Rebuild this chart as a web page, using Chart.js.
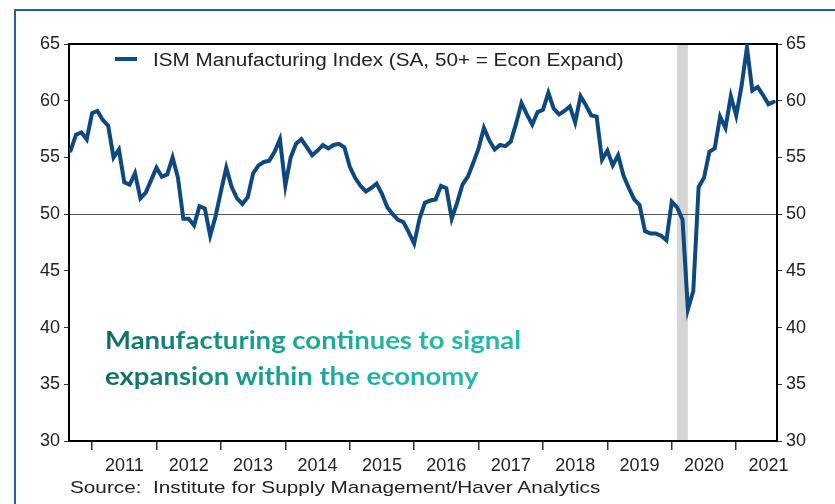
<!DOCTYPE html>
<html>
<head>
<meta charset="utf-8">
<script src="https://cdn.jsdelivr.net/npm/chart.js@4.4.1/dist/chart.umd.min.js"></script>
<style>
  body { margin: 0; background: #fff; }
  #wrap { position: relative; width: 835px; height: 504px; overflow: hidden; background: #fff; }
  #frame { position: absolute; left: 14px; top: 9px; right: -10px; bottom: -10px;
    border-top: 2px solid #2561a0; border-left: 2px solid #2561a0; }
  #ismChart { position: absolute; left: 0; top: 0; }
  .legend { position: absolute; left: 115px; top: 50px; font: 18px "Liberation Sans", Arial, sans-serif; color: #222; white-space: nowrap; }
  .legend .swatch { display: inline-block; width: 22px; height: 4px; background: #0f4c84; vertical-align: middle; margin-right: 16px; position: relative; top: -2px; }
  .legend .txt { display: inline-block; transform: scaleX(1.15); transform-origin: left center; }
  .note { position: absolute; left: 105px; top: 321px; font: bold 25px Lato, "Open Sans", sans-serif; line-height: 36px; white-space: nowrap;
    transform: scaleX(1.1); transform-origin: left top;
    background: linear-gradient(90deg, #0f6b64 0%, #169b8e 35%, #20b6a6 70%, #22bcab 100%);
    -webkit-background-clip: text; background-clip: text; color: transparent; }
  .source { position: absolute; left: 70px; top: 478px; font: 17px "Liberation Sans", Arial, sans-serif; color: #222; white-space: nowrap;
    transform: scaleX(1.22); transform-origin: left top; }
</style>
</head>
<body>
<div id="wrap">
  <div id="frame"></div>
  <canvas id="ismChart" width="835" height="504"></canvas>
  <div class="legend"><span class="swatch"></span><span class="txt">ISM Manufacturing Index (SA, 50+ = Econ Expand)</span></div>
  <div class="note">Manufacturing continues to signal<br>expansion within the economy</div>
  <div class="source">Source:&nbsp; Institute for Supply Management/Haver Analytics</div>
</div>
<script>
// ISM manufacturing PMI, monthly, Sep 2010 through Aug 2021
const firstMonth = '2010-09';
const ismValues = [
  55.6, 57.0, 57.2, 56.6,
  58.9, 59.1, 58.3, 57.8, 55.0, 55.7, 52.8, 52.6, 53.6, 51.4, 51.9, 53.0,
  54.1, 53.3, 53.5, 55.0, 53.2, 49.6, 49.6, 49.0, 50.7, 50.5, 48.1, 49.8,
  52.0, 54.1, 52.4, 51.4, 50.9, 51.5, 53.6, 54.3, 54.6, 54.7, 55.5, 56.6,
  52.5, 55.0, 56.2, 56.6, 55.9, 55.2, 55.6, 56.1, 55.8, 56.1, 56.2, 55.9,
  54.2, 53.2, 52.5, 52.0, 52.3, 52.7, 51.8, 50.6, 50.0, 49.5, 49.3, 48.4,
  47.4, 49.6, 51.0, 51.2, 51.3, 52.5, 52.3, 49.6, 51.0, 52.6, 53.3, 54.5,
  55.8, 57.6, 56.5, 55.7, 56.1, 56.0, 56.4, 58.0, 59.8, 58.8, 57.9, 59.0,
  59.2, 60.7, 59.3, 58.8, 59.1, 59.5, 58.1, 60.4, 59.6, 58.7, 58.6, 54.8,
  55.6, 54.3, 55.2, 53.4, 52.3, 51.3, 50.8, 48.5, 48.3, 48.3, 48.1, 47.7,
  51.1, 50.6, 49.5, 41.6, 43.2, 52.4, 53.2, 55.5, 55.8, 58.6, 57.6, 60.4,
  58.7, 61.3, 64.7, 60.9, 61.2, 60.5, 59.7, 59.9
];
const yearLabels = ['2011', '2012', '2013', '2014', '2015', '2016', '2017', '2018', '2019', '2020', '2021'];
const yTicks = [30, 35, 40, 45, 50, 55, 60, 65];
const recession = ['2020-02', '2020-04'];

// months counted from Jan 2011
function monthIndex(s) {
  const [y, m] = s.split('-').map(Number);
  return (y - 2011) * 12 + (m - 1);
}

const start = monthIndex(firstMonth);
const points = ismValues.map((v, k) => ({ x: start + k, y: v }));
const xMin = start - 0.3;
const xMax = start + ismValues.length - 1 + 0.6;

const tickFont = { family: 'Liberation Sans', size: 18 };

const recessionBand = {
  id: 'recessionBand',
  beforeDraw(chart) {
    const { ctx, chartArea, scales } = chart;
    const x0 = scales.x.getPixelForValue(monthIndex(recession[0]));
    const x1 = scales.x.getPixelForValue(monthIndex(recession[1]));
    ctx.save();
    ctx.fillStyle = '#d4d4d4';
    ctx.fillRect(x0, chartArea.top, x1 - x0, chartArea.bottom - chartArea.top);
    ctx.restore();
  }
};

new Chart(document.getElementById('ismChart'), {
  type: 'line',
  data: {
    datasets: [{
      label: 'ISM Manufacturing Index (SA, 50+ = Econ Expand)',
      data: points,
      borderColor: '#0e4880',
      borderWidth: 4,
      pointRadius: 0,
      tension: 0,
      borderCapStyle: 'round',
      fill: false
    }]
  },
  options: {
    responsive: false,
    animation: false,
    devicePixelRatio: 1,
    layout: { padding: 0 },
    plugins: { legend: { display: false }, tooltip: { enabled: false } },
    scales: {
      x: {
        type: 'linear',
        position: 'bottom',
        min: xMin,
        max: xMax,
        afterBuildTicks: function(scale) {
          const ticks = [];
          yearLabels.forEach((label, k) => {
            ticks.push({ value: k * 12 });
            ticks.push({ value: k * 12 + 6 });
          });
          scale.ticks = ticks;
        },
        ticks: {
          autoSkip: false,
          maxRotation: 0,
          font: tickFont,
          color: '#222',
          padding: 5,
          callback: function(value) {
            return value % 12 === 6 ? yearLabels[(value - 6) / 12] : '';
          }
        },
        grid: {
          drawOnChartArea: false,
          tickLength: 9,
          lineWidth: 1.5,
          tickColor: function(ctx) {
            return ctx.tick && ctx.tick.value % 12 === 0 ? '#333' : 'rgba(0,0,0,0)';
          }
        },
        border: { color: '#000', width: 2 },
        afterFit: function(scale) { scale.height = 63; }
      },
      xTop: {
        type: 'linear',
        position: 'top',
        min: xMin,
        max: xMax,
        ticks: { display: false },
        grid: { drawOnChartArea: false, drawTicks: false },
        border: { color: '#000', width: 2 },
        afterFit: function(scale) { scale.height = 44; }
      },
      y: {
        position: 'left',
        min: 30,
        max: 65,
        afterBuildTicks: function(scale) { scale.ticks = yTicks.map(v => ({ value: v })); },
        ticks: { font: tickFont, color: '#222', padding: 4 },
        grid: {
          tickLength: 5,
          tickColor: '#333',
          lineWidth: 1,
          color: function(ctx) {
            return ctx.tick && ctx.tick.value === 50 ? '#555' : 'rgba(0,0,0,0)';
          }
        },
        border: { color: '#000', width: 2 },
        afterFit: function(scale) { scale.width = 69; }
      },
      yRight: {
        position: 'right',
        min: 30,
        max: 65,
        afterBuildTicks: function(scale) { scale.ticks = yTicks.map(v => ({ value: v })); },
        ticks: { font: tickFont, color: '#222', padding: 4 },
        grid: { drawOnChartArea: false, tickLength: 5, tickColor: '#333' },
        border: { color: '#000', width: 2 },
        afterFit: function(scale) { scale.width = 58; }
      }
    }
  },
  plugins: [recessionBand]
});
</script>
</body>
</html>
